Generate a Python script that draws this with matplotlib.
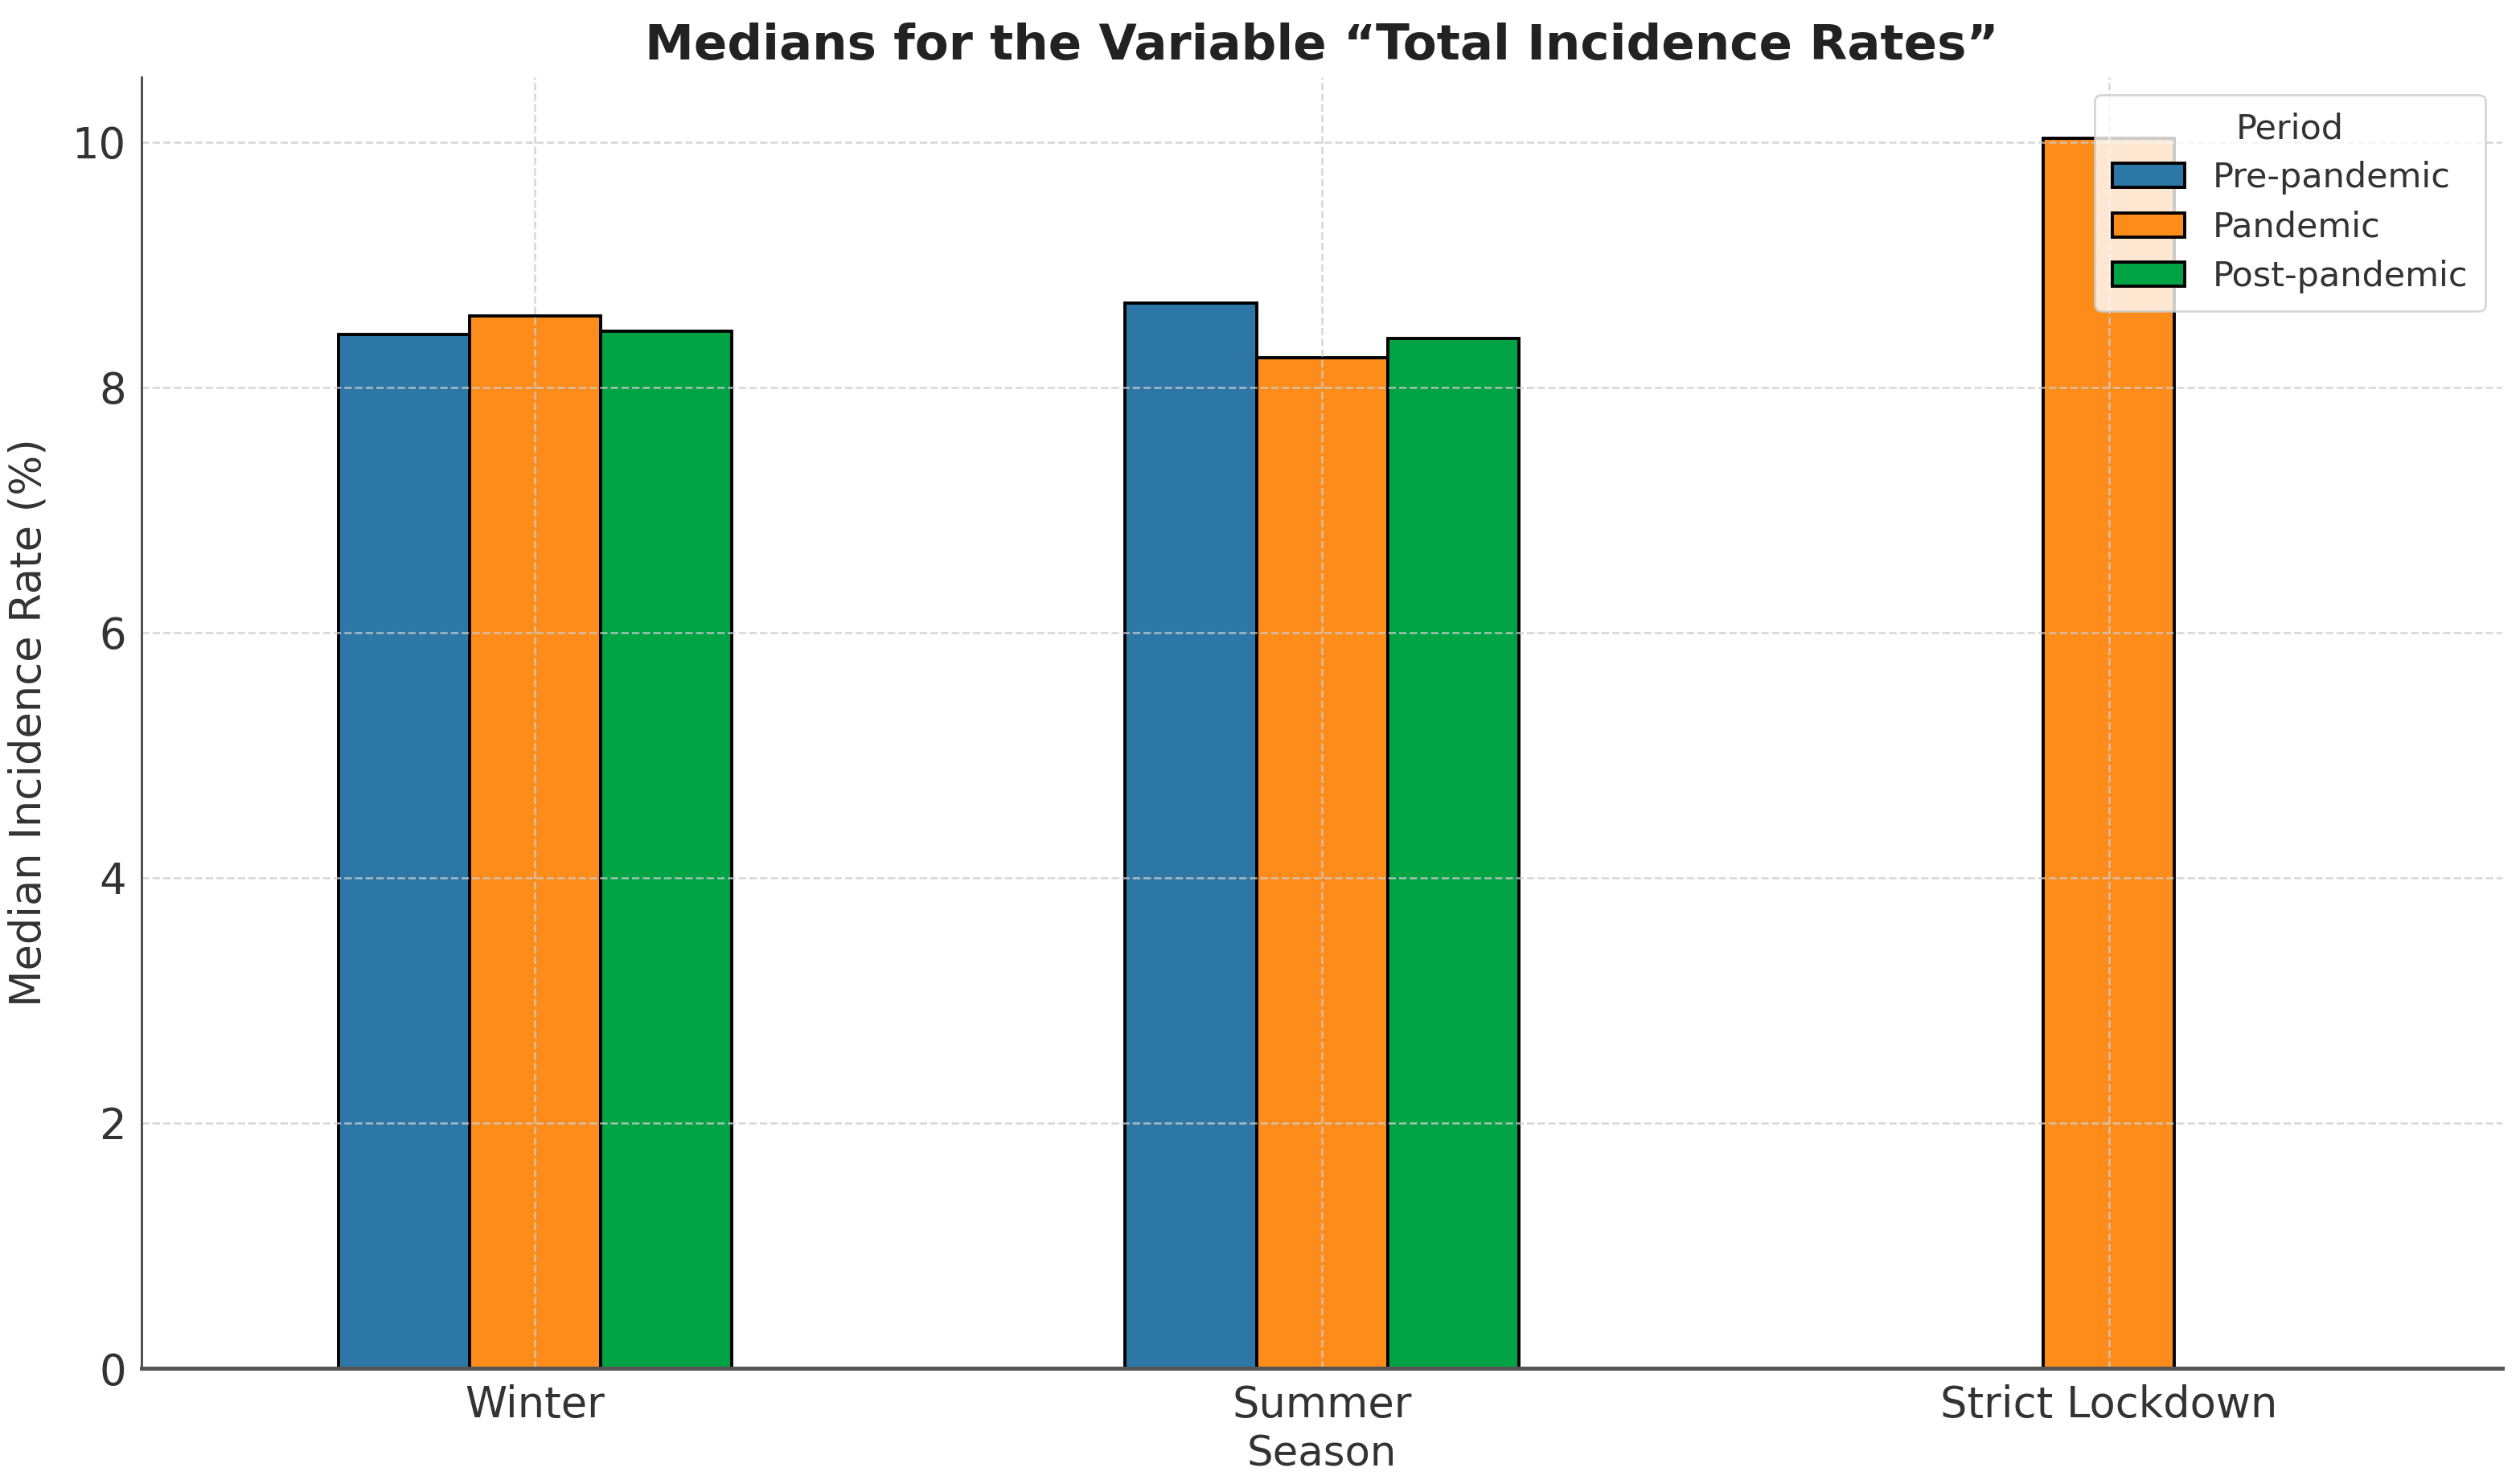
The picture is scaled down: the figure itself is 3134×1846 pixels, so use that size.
import numpy as np
import matplotlib
matplotlib.use("Agg")
import matplotlib.pyplot as plt

categories = ["Winter", "Summer", "Strict Lockdown"]
periods = ["Pre-pandemic", "Pandemic", "Post-pandemic"]
pre_pandemic = [8.43, 8.69, np.nan]
pandemic = [8.58, 8.24, 10.03]
post_pandemic = [8.46, 8.40, np.nan]
series = [pre_pandemic, pandemic, post_pandemic]
colors = ["#2d77a6", "#fe8c1a", "#00a344"]

fig = plt.figure(figsize=(15.67, 9.23), dpi=200)
ax = fig.add_axes([0.0562, 0.078, 0.9368, 0.870])

x = np.arange(len(categories))
w = 0.5 / 3
for i, (vals, c, lab) in enumerate(zip(series, colors, periods)):
    ax.bar(x + (i - 1) * w, vals, width=w, color=c, edgecolor="black",
           linewidth=1.4, label=lab)

ax.set_xlim(-0.5, 2.5)
ax.set_ylim(0, 10.53)
ax.set_xticks(x)
ax.set_xticklabels(categories, rotation=0)
ax.set_yticks([0, 2, 4, 6, 8, 10])
ax.tick_params(axis="both", length=0, labelsize=19, labelcolor="#333333", pad=7)

ax.grid(True, linestyle="--", color="#cccccc", linewidth=0.9, alpha=0.8)
for s in ["top", "right"]:
    ax.spines[s].set_visible(False)
ax.spines["left"].set_color("#444444")
ax.spines["left"].set_linewidth(1.0)
ax.spines["bottom"].set_color("#555555")
ax.spines["bottom"].set_linewidth(1.8)

ax.set_title("Medians for the Variable \u201cTotal Incidence Rates\u201d",
             fontsize=22, fontweight="bold", color="#222222", pad=8)
ax.set_xlabel("Season", fontsize=18.5, color="#333333", labelpad=4)
ax.set_ylabel("Median Incidence Rate (%)", fontsize=19, color="#333333", labelpad=10)

leg = ax.legend(title="Period", loc="upper right", fontsize=15.5, title_fontsize=15.5,
                framealpha=0.8, borderpad=0.5, labelspacing=0.45, handlelength=2.1,
                borderaxespad=0.5)
for t in leg.get_texts():
    t.set_color("#333333")
leg.get_title().set_color("#333333")

fig.savefig("out.png", dpi=200)
